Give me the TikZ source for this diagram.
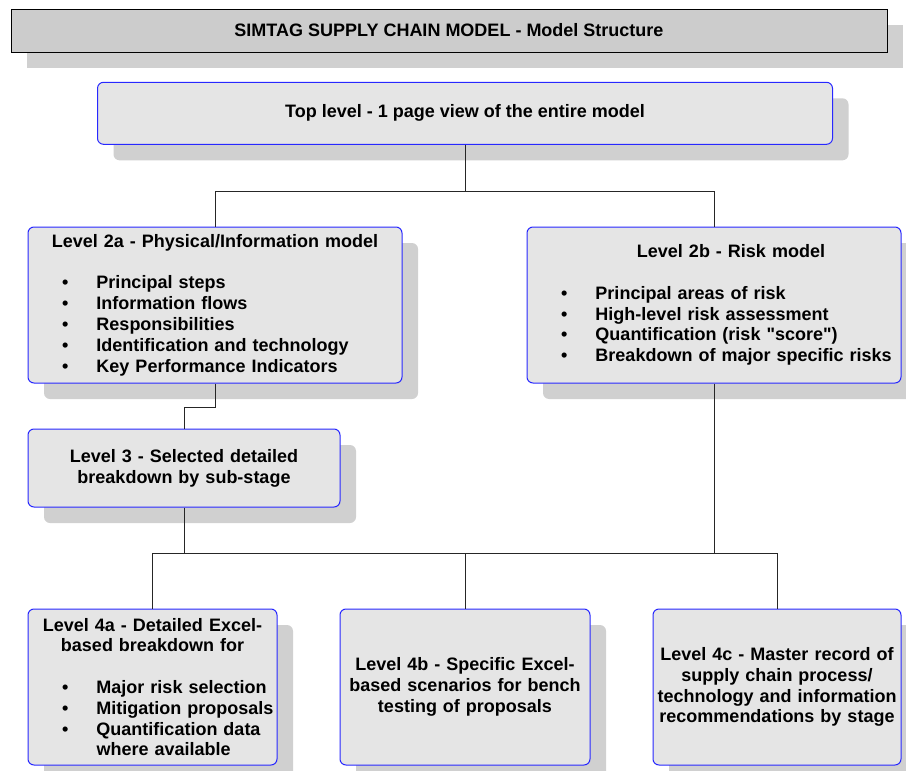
\documentclass[tikz,border=0pt]{standalone}
\usepackage{fontspec}
\setmainfont{Liberation Sans}[Ligatures=TeXOff]
\usetikzlibrary{shadows}
\definecolor{boxfill}{RGB}{229,229,229}
\definecolor{boxblue}{RGB}{40,40,255}
\definecolor{shadowgray}{RGB}{208,208,208}
\definecolor{titlefill}{RGB}{204,204,204}
\newcommand{\itm}[1]{\hspace*{34pt}\makebox[34.5pt][l]{\textbullet}#1}

\begin{document}
\begin{tikzpicture}[x=1pt,y=-1pt,
  every node/.style={font=\bfseries\fontsize{18}{20.8}\selectfont},
  shade16/.style={drop shadow={shadow xshift=16pt,shadow yshift=-16pt,fill=shadowgray,opacity=1}},
  lvbox/.style={draw=boxblue,fill=boxfill,line width=1pt,rounded corners=6pt,inner xsep=0pt,shade16},
  link/.style={draw=black!85,line width=0.8pt}]
  \useasboundingbox (0,0) rectangle (906,771);

  \node[draw,fill=titlefill,line width=0.9pt,minimum width=876pt,minimum height=43pt,shade16] (title) at (449,30.5) {SIMTAG SUPPLY CHAIN MODEL - Model Structure};

  \node[lvbox,minimum width=735pt,minimum height=62pt] (lvl1) at (465,113.3) {Top level - 1 page view of the entire model};

  \node[lvbox,minimum width=374pt,minimum height=156pt,text width=374pt,align=left] (lvl2a) at (215,305) {%
    \makebox[\hsize]{Level 2a - Physical/Information model}\\[20.8pt]
    \itm{Principal steps}\\
    \itm{Information flows}\\
    \itm{Responsibilities}\\
    \itm{Identification and technology}\\
    \itm{Key Performance Indicators}};
  \node[lvbox,minimum width=374pt,minimum height=156pt,text width=374pt,align=left] (lvl2b) at (714,305) {%
    \makebox[\hsize]{\hspace*{34pt}Level 2b - Risk model}\\[20.8pt]
    \itm{Principal areas of risk}\\
    \itm{High-level risk assessment}\\
    \itm{Quantification (risk "score")}\\
    \itm{Breakdown of major specific risks}};
  \foreach \to in {lvl2a,lvl2b}
    \draw[link] (lvl1.south) -- ++(0,47) -| (\to.north);

  \node[lvbox,minimum width=312pt,minimum height=78pt,text width=312pt,align=center] (lvl3) at (184,468) {Level 3 - Selected detailed\\breakdown by sub-stage};
  \draw[link] (lvl2a.south) -- ++(0,24) -| (lvl3.north);

  \node[lvbox,minimum width=249pt,minimum height=156pt,text width=249pt,align=left] (lvl4a) at (152.5,687) {%
    \makebox[\hsize]{Level 4a - Detailed Excel-}\\
    \makebox[\hsize]{based breakdown for}\\[20.8pt]
    \itm{Major risk selection}\\
    \itm{Mitigation proposals}\\
    \itm{Quantification data}\\
    \hspace*{68.5pt}where available};
  \node[lvbox,minimum width=250pt,minimum height=156pt,text width=250pt,align=center] (lvl4b) at (465,687) {Level 4b - Specific Excel-\\based scenarios for bench\\testing of proposals};
  \node[lvbox,minimum width=248pt,minimum height=156pt,text width=248pt,align=center] (lvl4c) at (777,687) {Level 4c - Master record of\\supply chain process/\\technology and information\\recommendations by stage};

  \coordinate (bus) at (465,553);
  \draw[link] (lvl3.south) |- (bus);
  \draw[link] (lvl2b.south) |- (bus);
  \foreach \to in {lvl4a,lvl4b,lvl4c}
    \draw[link] (bus) -| (\to.north);

\end{tikzpicture}
\end{document}
